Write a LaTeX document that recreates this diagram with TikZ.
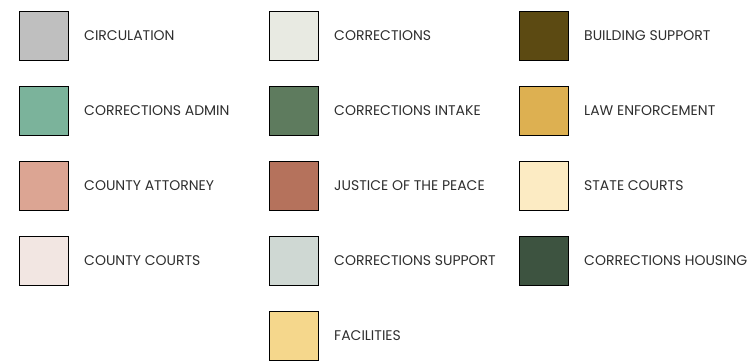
\documentclass[tikz,border=0pt]{standalone}
\usepackage{fontspec}
\setmainfont{Poppins}
\definecolor{cCirc}{HTML}{BFBFBF}
\definecolor{cCorrAdmin}{HTML}{7BB39B}
\definecolor{cCtyAtty}{HTML}{DCA593}
\definecolor{cCtyCourts}{HTML}{F2E6E2}
\definecolor{cCorr}{HTML}{E8EAE2}
\definecolor{cCorrIntake}{HTML}{5E7B5E}
\definecolor{cJustice}{HTML}{B5725C}
\definecolor{cCorrSupport}{HTML}{CFD8D3}
\definecolor{cFacilities}{HTML}{F5D78C}
\definecolor{cBldg}{HTML}{5C4A12}
\definecolor{cLaw}{HTML}{DDB051}
\definecolor{cState}{HTML}{FCEBC3}
\definecolor{cCorrHousing}{HTML}{3D5340}
\definecolor{txt}{HTML}{2E2E2E}
\begin{document}
\begin{tikzpicture}[x=1pt,y=-1pt,
  swatch/.style={draw=black,line width=1.5pt,minimum width=49pt,minimum height=49pt,inner sep=0pt,anchor=north west},
  lbl/.style={anchor=west,inner sep=0pt,text=txt,font=\fontsize{14}{16}\selectfont}]
\useasboundingbox (0,0) rectangle (755,360);
% column 1
\node[swatch,fill=cCirc] (s1) at (18.5,10.5) {};
\node[lbl] (t1) at (84,36) {CIRCULATION};
\node[swatch,fill=cCorrAdmin] (s2) at (18.5,85.5) {};
\node[lbl] (t2) at (84,111) {CORRECTIONS ADMIN};
\node[swatch,fill=cCtyAtty] (s3) at (18.5,160.5) {};
\node[lbl] (t3) at (84,186) {COUNTY ATTORNEY};
\node[swatch,fill=cCtyCourts] (s4) at (18.5,235.5) {};
\node[lbl] (t4) at (84,261) {COUNTY COURTS};
% column 2
\node[swatch,fill=cCorr] (s5) at (268.5,10.5) {};
\node[lbl] (t5) at (334,36) {CORRECTIONS};
\node[swatch,fill=cCorrIntake] (s6) at (268.5,85.5) {};
\node[lbl] (t6) at (334,111) {CORRECTIONS INTAKE};
\node[swatch,fill=cJustice] (s7) at (268.5,160.5) {};
\node[lbl] (t7) at (334,186) {JUSTICE OF THE PEACE};
\node[swatch,fill=cCorrSupport] (s8) at (268.5,235.5) {};
\node[lbl] (t8) at (334,261) {CORRECTIONS SUPPORT};
\node[swatch,fill=cFacilities] (s9) at (268.5,310.5) {};
\node[lbl] (t9) at (334,336) {FACILITIES};
% column 3
\node[swatch,fill=cBldg] (s10) at (518.5,10.5) {};
\node[lbl] (t10) at (584,36) {BUILDING SUPPORT};
\node[swatch,fill=cLaw] (s11) at (518.5,85.5) {};
\node[lbl] (t11) at (584,111) {LAW ENFORCEMENT};
\node[swatch,fill=cState] (s12) at (518.5,160.5) {};
\node[lbl] (t12) at (584,186) {STATE COURTS};
\node[swatch,fill=cCorrHousing] (s13) at (518.5,235.5) {};
\node[lbl] (t13) at (584,261) {CORRECTIONS HOUSING};
\end{tikzpicture}
\end{document}
